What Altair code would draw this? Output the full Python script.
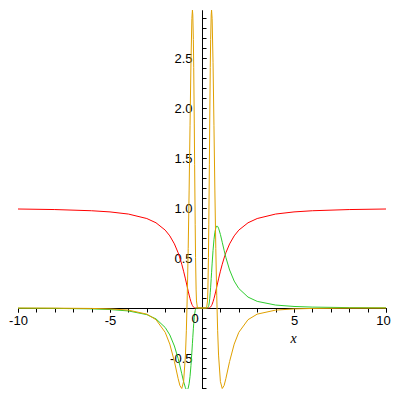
import altair as alt
import pandas as pd

xs = [-10, -8, -6, -5, -4, -3, -2.5, -2, -1.75, -1.5, -1.3, -1.2, -1.1, -1.0, -0.9, -0.85,
      -0.8, -0.75, -0.7, -0.65, -0.6, -0.55, -0.52, -0.5, -0.47, -0.45, -0.42, -0.4, -0.37,
      -0.35, -0.32, -0.3, -0.25, -0.2, -0.1,
      0,
      0.1, 0.2, 0.25, 0.3, 0.32, 0.35, 0.37, 0.4, 0.42, 0.45, 0.47, 0.5, 0.52, 0.55, 0.6,
      0.65, 0.7, 0.75, 0.8, 0.85, 0.9, 1.0, 1.1, 1.2, 1.3, 1.5, 1.75, 2, 2.5, 3, 4, 5, 6, 8, 10]

red = [0.99, 0.9845, 0.9726, 0.9608, 0.9394, 0.8948, 0.8521, 0.7788, 0.7214, 0.6412, 0.5534,
       0.4994, 0.4376, 0.3679, 0.2910, 0.2506, 0.2096, 0.1690, 0.1299, 0.0938, 0.0622, 0.0367,
       0.0248, 0.0183, 0.0108, 0.0072, 0.0035, 0.0019, 0.0007, 0.0003, 0.0001, 0.0, 0.0, 0.0, 0.0,
       0.0,
       0.0, 0.0, 0.0, 0.0, 0.0001, 0.0003, 0.0007, 0.0019, 0.0035, 0.0072, 0.0108, 0.0183, 0.0248,
       0.0367, 0.0622, 0.0938, 0.1299, 0.1690, 0.2096, 0.2506, 0.2910, 0.3679, 0.4376, 0.4994,
       0.5534, 0.6412, 0.7214, 0.7788, 0.8521, 0.8948, 0.9394, 0.9608, 0.9726, 0.9845, 0.99]

green = [-0.002, -0.0039, -0.009, -0.0154, -0.0294, -0.0663, -0.1091, -0.1947, -0.2692, -0.38,
         -0.5038, -0.578, -0.6575, -0.7358, -0.7984, -0.8161, -0.8187, -0.8012, -0.7575, -0.6831,
         -0.5759, -0.4408, -0.3523, -0.2931, -0.2084, -0.1573, -0.0932, -0.0603, -0.0265, -0.0133,
         -0.0035, -0.0011, 0.0, 0.0, 0.0,
         0.0,
         0.0, 0.0, 0.0, 0.0011, 0.0035, 0.0133, 0.0265, 0.0603, 0.0932, 0.1573, 0.2084, 0.2931,
         0.3523, 0.4408, 0.5759, 0.6831, 0.7575, 0.8012, 0.8187, 0.8161, 0.7984, 0.7358, 0.6575,
         0.578, 0.5038, 0.38, 0.2692, 0.1947, 0.1091, 0.0663, 0.0294, 0.0154, 0.009, 0.0039, 0.002]

orange = [-0.0006, -0.0014, -0.0044, -0.009, -0.0211, -0.0614, -0.1169, -0.2434, -0.3611, -0.5348,
          -0.7039, -0.776, -0.8052, -0.7358, -0.4709, -0.2226, 0.128, 0.5935, 1.1704, 1.8225,
          2.4526, 2.8947, 2.9786, 2.9305, 2.6847, 2.4035, 1.8494, 1.4324, 0.8325, 0.5062, 0.1807,
          0.0707, 0.0017, 0.0, 0.0,
          0.0,
          0.0, 0.0, 0.0017, 0.0707, 0.1807, 0.5062, 0.8325, 1.4324, 1.8494, 2.4035, 2.6847, 2.9305,
          2.9786, 2.8947, 2.4526, 1.8225, 1.1704, 0.5935, 0.128, -0.2226, -0.4709, -0.7358, -0.8052,
          -0.776, -0.7039, -0.5348, -0.3611, -0.2434, -0.1169, -0.0614, -0.0211, -0.009, -0.0044,
          -0.0014, -0.0006]

series_names = ["f", "df", "d2f"]
series_colors = ["#FF0000", "#2ECC2E", "#E0A000"]

x_major = [-10, -5, 5, 10]
x_minor = list(range(-10, 11))
y_major = [-0.5, 0.5, 1.0, 1.5, 2.0, 2.5]
y_minor = [round(-0.8 + 0.1 * k, 1) for k in range(38)]

rows = []
for name, vals in zip(series_names, [red, green, orange]):
    for i, (x, y) in enumerate(zip(xs, vals)):
        rows.append({"x": x, "y": y, "s": name, "i": i})
df = pd.DataFrame(rows)

zero_label = pd.DataFrame({"x": [0], "y": [0], "t": ["0"]})

xscale = alt.Scale(domain=[-10, 10], nice=False, zero=False)
yscale = alt.Scale(domain=[-0.81, 2.98], nice=False, zero=False)

common = dict(grid=False, domainColor="black", tickColor="black", labelColor="black",
              labelFont="Liberation Sans", labelFontSize=13, tickSize=4)

x_axis_major = alt.Axis(
    orient="bottom", offset=-81, values=x_major,
    labelExpr="replace(format(datum.value, 'd'), '\u2212', '-')",
    labelOffset={"condition": {"test": "datum.value == 10", "value": -3}, "value": 0},
    labelPadding=2, title="x", titleFont="Liberation Serif",
    titleFontStyle="italic", titleFontWeight="normal", titleFontSize=14,
    titleX=275, titleY=34, titleBaseline="alphabetic", titleColor="black",
    labelFlush=False, **common)
y_axis_major = alt.Axis(
    orient="right", offset=-184, values=y_major,
    labelExpr="replace(format(datum.value, '.1f'), '\u2212', '-')",
    labelPadding=-14, labelAlign="right", title=None, labelFlush=False, **common)

x_axis_minor = alt.Axis(orient="bottom", offset=-81, values=x_minor, labels=False,
                        title=None, **common)
y_axis_minor = alt.Axis(orient="right", offset=-184, values=y_minor, labels=False,
                        title=None, **common)

lines = alt.Chart(df).mark_line(strokeWidth=1, clip=True).encode(
    x=alt.X("x:Q", scale=xscale, axis=x_axis_major),
    y=alt.Y("y:Q", scale=yscale, axis=y_axis_major),
    color=alt.Color("s:N", scale=alt.Scale(domain=series_names, range=series_colors), legend=None),
    order="i:Q",
)

minor = alt.Chart(zero_label).mark_point(opacity=0).encode(
    x=alt.X("x:Q", scale=xscale, axis=x_axis_minor),
    y=alt.Y("y:Q", scale=yscale, axis=y_axis_minor),
)

zero_text = alt.Chart(zero_label).mark_text(
    font="Liberation Sans", fontSize=13, color="black", dx=-7, dy=11, baseline="middle"
).encode(x=alt.X("x:Q", scale=xscale, axis=None), y=alt.Y("y:Q", scale=yscale, axis=None),
         text="t:N")

chart = alt.layer(minor, lines, zero_text).resolve_axis(
    x="independent", y="independent"
).properties(
    width=368, height=379,
    autosize=alt.AutoSizeParams(type="none"),
    padding={"left": 10, "top": 2, "right": 6, "bottom": 0},
).configure(background="white").configure_view(stroke=None)

chart.save("out.html", embed_options={"renderer": "svg", "actions": False})
